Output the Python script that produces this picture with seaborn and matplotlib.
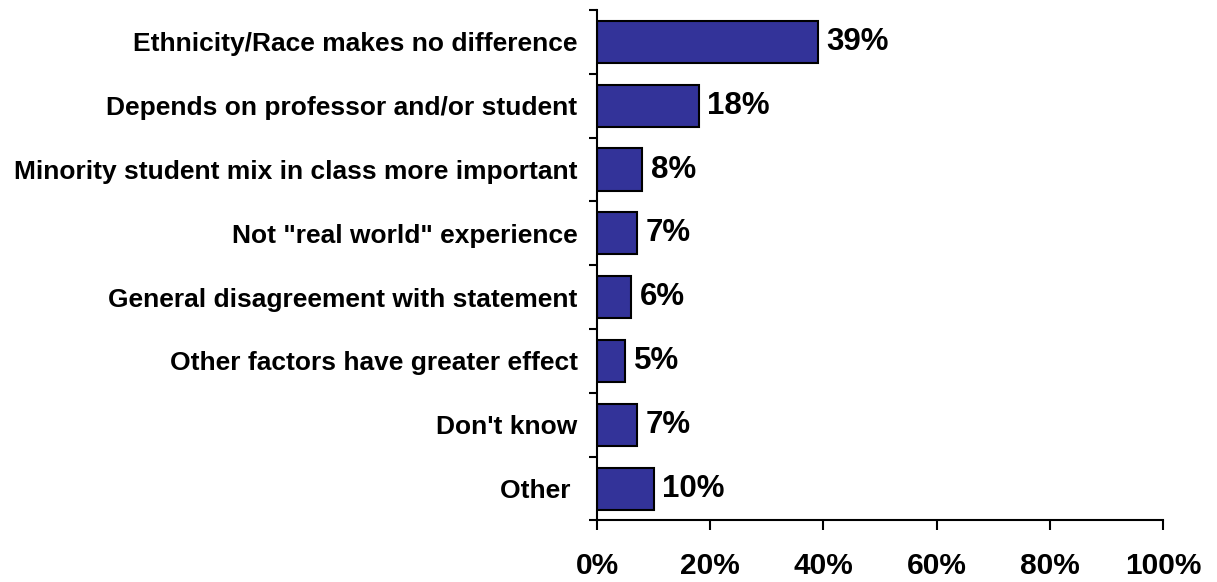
import matplotlib
matplotlib.use("Agg")
import matplotlib.pyplot as plt
import seaborn as sns
import pandas as pd
from matplotlib.ticker import FixedLocator, PercentFormatter

categories = [
    "Ethnicity/Race makes no difference",
    "Depends on professor and/or student",
    "Minority student mix in class more important",
    'Not "real world" experience',
    "General disagreement with statement",
    "Other factors have greater effect",
    "Don't know",
    "Other ",
]
values = [39, 18, 8, 7, 6, 5, 7, 10]
x_ticks = [0, 20, 40, 60, 80, 100]

sns.set_theme(style="white")
plt.rcParams["font.family"] = ["Liberation Sans", "DejaVu Sans"]

df = pd.DataFrame({"reason": categories, "share": values})

fig = plt.figure(figsize=(12.17, 5.82), dpi=100)
ax = fig.add_axes([0.4906, 0.1057, 0.9556 - 0.4906, 0.9828 - 0.1057])

sns.barplot(data=df, x="share", y="reason", orient="h", color="#333399",
            saturation=1, width=0.66, edgecolor="black", linewidth=1.5, ax=ax)

for bar, v in zip(ax.patches, values):
    ax.text(bar.get_width() + 1.5, bar.get_y() + bar.get_height() / 2, f"{v}%",
            va="center", ha="left", fontsize=22.5, fontweight="bold", color="black")

ax.set_xlim(0, 100)
ax.set_ylim(len(categories) - 0.5, -0.5)
ax.set_xticks(x_ticks)
ax.xaxis.set_major_formatter(PercentFormatter(decimals=0))
ax.set_xlabel("")
ax.set_ylabel("")

ax.yaxis.set_minor_locator(FixedLocator([i - 0.5 for i in range(len(categories) + 1)]))
ax.tick_params(axis="y", which="major", length=0, pad=14, labelsize=19)
ax.tick_params(axis="y", which="minor", left=True, length=6, width=1.5, color="black")
ax.tick_params(axis="x", which="major", bottom=True, length=7.5, width=1.5,
               color="black", pad=15, labelsize=21.5)
for lab in ax.get_yticklabels() + ax.get_xticklabels():
    lab.set_fontweight("bold")
    lab.set_color("black")

for side in ("top", "right"):
    ax.spines[side].set_visible(False)
for side in ("left", "bottom"):
    ax.spines[side].set_color("black")
    ax.spines[side].set_linewidth(1.5)

fig.savefig("out.png", dpi=100)
